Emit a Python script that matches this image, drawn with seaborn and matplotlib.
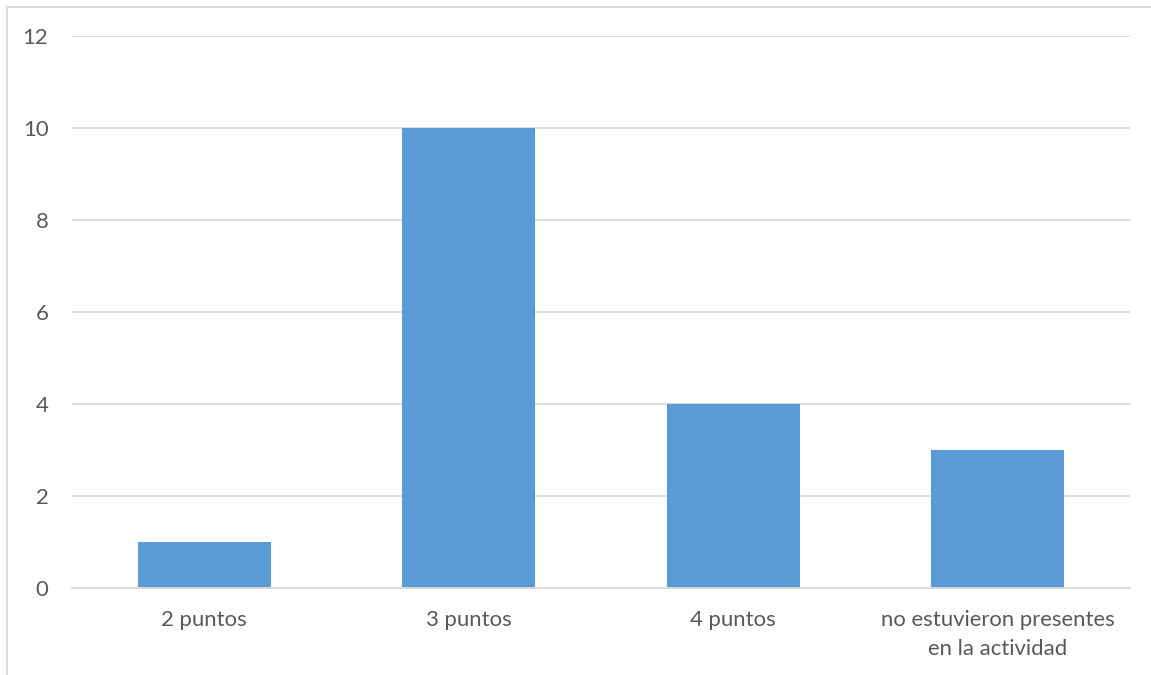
import matplotlib
matplotlib.use("Agg")
import matplotlib.pyplot as plt
from matplotlib.lines import Line2D
import seaborn as sns
import pandas as pd

categories = ["2 puntos", "3 puntos", "4 puntos", "no estuvieron presentes\nen la actividad"]
counts = [1, 10, 4, 3]
y_ticks = [0, 2, 4, 6, 8, 10, 12]

BAR_COLOR = "#5B9BD5"
TEXT_COLOR = "#595959"
GRID_COLOR = "#D9D9D9"

sns.set_theme(style="white")
plt.rcParams["font.family"] = ["Lato", "DejaVu Sans"]

W, H = 1151, 675
fig = plt.figure(figsize=(W / 100, H / 100), dpi=100)
ax = fig.add_axes([72 / W, 1 - 588 / H, (1130 - 72) / W, (588 - 36) / H])

df = pd.DataFrame({"cat": categories, "n": counts})
sns.barplot(data=df, x="cat", y="n", color=BAR_COLOR, saturation=1, width=0.503,
            linewidth=0, edgecolor="none", ax=ax)

ax.set_xlim(-0.5, len(categories) - 0.5)
ax.set_ylim(0, 12)
ax.set_yticks(y_ticks)
ax.set_yticklabels([str(v) for v in y_ticks])
ax.set_xlabel("")
ax.set_ylabel("")

ax.yaxis.grid(True, color=GRID_COLOR, linewidth=1.3)
ax.set_axisbelow(True)
for side in ["top", "right", "left"]:
    ax.spines[side].set_visible(False)
ax.spines["bottom"].set_color(GRID_COLOR)
ax.spines["bottom"].set_linewidth(1.3)

# tick marks at category boundaries, labels centered under bars
ax.set_xticks([i - 0.5 for i in range(len(categories) + 1)], minor=True)
ax.tick_params(axis="x", which="minor", length=7, width=1.3, color=GRID_COLOR, direction="out")
ax.tick_params(axis="x", which="major", length=0, pad=16, labelsize=15.9, labelcolor=TEXT_COLOR)
ax.tick_params(axis="y", length=0, pad=17, labelsize=15.9, labelcolor=TEXT_COLOR)
for lbl in ax.get_xticklabels():
    lbl.set_linespacing(1.55)

# chart frame
fig.add_artist(Line2D([7 / W, 7 / W], [0, 1 - 7 / H], color=GRID_COLOR, linewidth=1.3))
fig.add_artist(Line2D([7 / W, 1], [1 - 7 / H, 1 - 7 / H], color=GRID_COLOR, linewidth=1.3))

fig.savefig("out.png", dpi=100, facecolor="white")
